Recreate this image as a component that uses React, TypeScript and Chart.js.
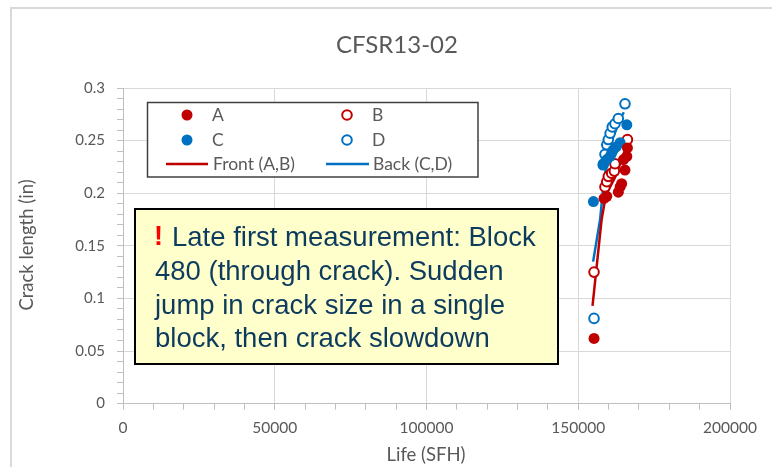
import React, { useEffect, useRef } from "react";
import { Chart, registerables } from "chart.js";

Chart.register(...registerables);

// ---- Data (Life in SFH, crack length in inches) ----
const lifeA = [155200, 158500, 159400, 163200, 163800, 164300, 164900, 165400, 166000, 166200];
const crackA = [0.062, 0.195, 0.197, 0.201, 0.206, 0.209, 0.232, 0.222, 0.235, 0.243];

const lifeB = [155200, 158800, 159400, 159900, 161000, 161900, 162100, 166200];
const crackB = [0.125, 0.206, 0.211, 0.216, 0.219, 0.221, 0.228, 0.251];

const lifeC = [155000, 158300, 159400, 160500, 161000, 161500, 162500, 163800, 166000];
const crackC = [0.192, 0.228, 0.232, 0.235, 0.238, 0.241, 0.244, 0.248, 0.265];

const lifeD = [155200, 158200, 158800, 159400, 159900, 160500, 161200, 162100, 163200, 165400];
const crackD = [0.081, 0.227, 0.237, 0.246, 0.251, 0.257, 0.263, 0.266, 0.271, 0.285];

const lifeFront = [154700, 157700, 159100, 162100, 166100];
const crackFront = [0.093, 0.175, 0.198, 0.215, 0.246];

const lifeBack = [154900, 157200, 158500, 160500, 163800, 165000];
const crackBack = [0.135, 0.175, 0.213, 0.246, 0.27, 0.277];

const titleText = "CFSR13-02";
const xTitle = "Life (SFH)";
const yTitle = "Crack length (in)";
const noteLines = [
  "Late first measurement: Block",
  "480 (through crack). Sudden",
  "jump in crack size in a single",
  "block, then crack slowdown",
];

const RED = "#c00000";
const BLUE = "#0070c0";
const GRAY_TXT = "#595959";
const CAL = "Lato, 'Open Sans', sans-serif";

const pts = (xs: number[], ys: number[]) => xs.map((x, i) => ({ x, y: ys[i] }));

const decorPlugin = {
  id: "decor",
  afterDraw(chart: any) {
    const ctx = chart.ctx as CanvasRenderingContext2D;
    ctx.save();
    // outer frame
    ctx.strokeStyle = "#d9d9d9";
    ctx.lineWidth = 2;
    ctx.strokeRect(11, 8, 800, 500);

    // title
    ctx.fillStyle = GRAY_TXT;
    ctx.font = `24px ${CAL}`;
    ctx.textAlign = "center";
    ctx.textBaseline = "middle";
    ctx.fillText(titleText, 397, 45);

    // axis titles
    ctx.font = `18.5px ${CAL}`;
    ctx.fillText(xTitle, 426, 455);
    ctx.save();
    ctx.translate(27, 245);
    ctx.rotate(-Math.PI / 2);
    ctx.fillText(yTitle, 0, 0);
    ctx.restore();

    // legend box
    ctx.fillStyle = "#ffffff";
    ctx.fillRect(147.5, 102.5, 330.5, 74.5);
    ctx.strokeStyle = "#404040";
    ctx.lineWidth = 1.5;
    ctx.strokeRect(147.5, 102.5, 330.5, 74.5);

    const dot = (x: number, y: number, c: string, filled: boolean) => {
      ctx.beginPath();
      if (filled) {
        ctx.arc(x, y, 5.5, 0, Math.PI * 2);
        ctx.fillStyle = c;
        ctx.fill();
      } else {
        ctx.arc(x, y, 4.8, 0, Math.PI * 2);
        ctx.fillStyle = "#fff";
        ctx.fill();
        ctx.lineWidth = 2;
        ctx.strokeStyle = c;
        ctx.stroke();
      }
    };
    ctx.font = `17.5px ${CAL}`;
    ctx.textAlign = "left";
    ctx.textBaseline = "middle";
    dot(187, 115, RED, true);
    dot(347, 115, RED, false);
    dot(187, 140, BLUE, true);
    dot(347, 140, BLUE, false);
    ctx.fillStyle = GRAY_TXT;
    ctx.fillText("A", 212, 115);
    ctx.fillText("B", 372, 115);
    ctx.fillText("C", 212, 140);
    ctx.fillText("D", 372, 140);
    ctx.lineWidth = 2.5;
    ctx.strokeStyle = RED;
    ctx.beginPath();
    ctx.moveTo(166, 164);
    ctx.lineTo(208, 164);
    ctx.stroke();
    ctx.strokeStyle = BLUE;
    ctx.beginPath();
    ctx.moveTo(326, 164);
    ctx.lineTo(369, 164);
    ctx.stroke();
    ctx.fillStyle = GRAY_TXT;
    ctx.fillText("Front (A,B)", 213, 164);
    ctx.fillText("Back (C,D)", 373, 164);

    // annotation box
    ctx.fillStyle = "#ffffcc";
    ctx.fillRect(135, 209, 423, 155);
    ctx.strokeStyle = "#000000";
    ctx.lineWidth = 2;
    ctx.strokeRect(135, 209, 423, 155);
    const ys = [238, 272, 306, 339];
    ctx.textBaseline = "middle";
    ctx.font = `bold 27px 'Liberation Sans', Arial, sans-serif`;
    ctx.fillStyle = "#ff0000";
    ctx.fillText("!", 154, ys[0]);
    ctx.font = `27.5px 'Liberation Sans', Arial, sans-serif`;
    ctx.fillStyle = "#0d3b5e";
    ctx.fillText(noteLines[0], 172, ys[0]);
    for (let i = 1; i < noteLines.length; i++) ctx.fillText(noteLines[i], 155, ys[i]);
    ctx.restore();
  },
};

export default function App() {
  const ref = useRef<HTMLCanvasElement | null>(null);
  useEffect(() => {
    if (!ref.current) return;
    const lineDs = (label: string, xs: number[], ys: number[], c: string) => ({
      label,
      data: pts(xs, ys),
      showLine: true,
      borderColor: c,
      borderWidth: 2.5,
      pointRadius: 0,
      order: 2,
    });
    const markDs = (label: string, xs: number[], ys: number[], c: string, filled: boolean) => ({
      label,
      data: pts(xs, ys),
      showLine: false,
      pointRadius: filled ? 5.5 : 4.8,
      pointBackgroundColor: filled ? c : "#ffffff",
      pointBorderColor: c,
      pointBorderWidth: filled ? 0 : 2,
      order: 1,
    });
    const chart = new Chart(ref.current, {
      type: "scatter",
      data: {
        datasets: [
          lineDs("Front (A,B)", lifeFront, crackFront, RED),
          lineDs("Back (C,D)", lifeBack, crackBack, BLUE),
          markDs("A", lifeA, crackA, RED, true),
          markDs("C", lifeC, crackC, BLUE, true),
          markDs("B", lifeB, crackB, RED, false),
          markDs("D", lifeD, crackD, BLUE, false),
        ] as any,
      },
      options: {
        responsive: false,
        animation: false,
        devicePixelRatio: 1,
        layout: { padding: { left: 10, top: 88, right: 42, bottom: 20 } },
        plugins: { legend: { display: false }, title: { display: false }, tooltip: { enabled: false } },
        scales: {
          x: {
            type: "linear",
            min: 0,
            max: 200000,
            afterFit: (s: any) => {
              s.height = 43.4;
            },
            ticks: {
              stepSize: 10000,
              autoSkip: false,
              maxRotation: 0,
              padding: 9,
              color: GRAY_TXT,
              font: { family: CAL, size: 15.5 },
              callback: (v: any) => (Number(v) % 50000 === 0 ? String(v) : ""),
            },
            grid: {
              color: (c: any) => (c.tick && c.tick.value % 50000 === 0 ? "#d9d9d9" : "rgba(0,0,0,0)"),
              tickColor: "#bfbfbf",
              tickLength: 6,
              lineWidth: 1,
            },
            border: { color: "#bfbfbf", width: 1 },
          },
          y: {
            type: "linear",
            min: 0,
            max: 0.3,
            afterFit: (s: any) => {
              s.width = 113;
            },
            ticks: {
              stepSize: 0.01,
              autoSkip: false,
              padding: 12,
              color: GRAY_TXT,
              font: { family: CAL, size: 15 },
              callback: (v: any) => {
                const r = Math.round(Number(v) * 100);
                return r % 5 === 0 ? String(r / 100) : "";
              },
            },
            grid: {
              color: (c: any) => {
                const r = c.tick ? Math.round(c.tick.value * 100) : 1;
                return r % 5 === 0 ? "#d9d9d9" : "rgba(0,0,0,0)";
              },
              tickColor: "#bfbfbf",
              tickLength: 6,
              lineWidth: 1,
            },
            border: { color: "#bfbfbf", width: 1 },
          },
        },
      } as any,
      plugins: [decorPlugin],
    });
    return () => chart.destroy();
  }, []);
  return (
    <div style={{ position: "fixed", left: 0, top: 0, width: 772, height: 467, background: "#fff" }}>
      <canvas ref={ref} width={772} height={467} style={{ display: "block" }} />
    </div>
  );
}
